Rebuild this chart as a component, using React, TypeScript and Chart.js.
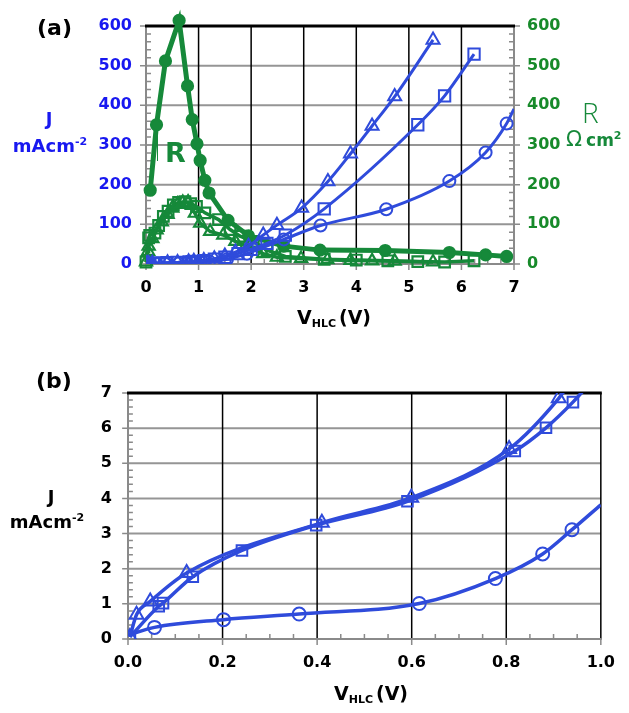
// Two-panel J / R versus V_HLC figure; axes frame, grid and tick marks are drawn as datasets.
import { Chart, registerables } from "chart.js";
import React, { useEffect, useRef } from "react";

Chart.register(...registerables);

// ---------- styles ----------
const FONT = "'DejaVu Sans', 'Liberation Sans', sans-serif";
const BLUE = "#2f4bdb";
const BLUE_TXT = "#1818f0";
const GREEN = "#16893a";
const GREEN_TXT = "#178a2a";
const GRAY = "#8a8a8a";
const HGRID = "#959595";
const NONE = "rgba(0,0,0,0)";

// ---------- Panel (a): J (left axis) and R (right axis) vs V_HLC ----------
const A_X_TICKS = [0, 1, 2, 3, 4, 5, 6, 7];
const A_Y_TICKS = [0, 100, 200, 300, 400, 500, 600];

const A_TRI_V = [0, 0.01, 0.02, 0.05, 0.12, 0.41, 0.6, 0.81, 0.91, 1.1, 1.3, 1.5, 1.7, 1.95, 2.23, 2.49, 2.96, 3.46, 3.89, 4.3, 4.73, 5.46];
const A_TRI_J = [0, 0.1, 0.7, 1.1, 1.9, 3.3, 4.0, 5.4, 6.8, 9, 13, 20, 30, 45, 73, 98, 141, 208, 278, 348, 422, 565];

const A_SQ_V = [0, 0.01, 0.065, 0.074, 0.136, 0.24, 0.4, 0.59, 0.82, 0.88, 0.94, 1.1, 1.3, 1.5, 1.75, 2.0, 2.3, 2.65, 3.39, 5.17, 5.68, 6.24];
const A_SQ_J = [0, 0.1, 0.9, 1.0, 1.8, 2.5, 3.2, 3.9, 5.3, 6.0, 6.7, 8.5, 12, 17, 26, 37, 52, 73, 139, 351, 424, 529];

const A_CIR_V = [0, 0.056, 0.2, 0.36, 0.62, 0.78, 0.88, 0.94, 1.03, 1.12, 1.2, 1.54, 1.92, 2.62, 3.32, 4.57, 5.77, 6.46, 6.86, 7.0];
const A_CIR_J = [0, 0.3, 0.55, 0.7, 1.0, 1.7, 2.4, 3.1, 4.0, 5.3, 6.7, 12, 26, 62, 97, 138, 209, 281, 354, 391];

const A_RCIR_V = [0.08, 0.2, 0.37, 0.63, 0.79, 0.88, 0.97, 1.03, 1.12, 1.2, 1.56, 1.95, 2.62, 3.31, 4.55, 5.77, 6.46, 6.86];
const A_RCIR_R = [186, 351, 512, 614, 449, 364, 303, 261, 211, 179, 110, 71, 45, 35, 34, 29, 23, 19];

const A_RTRI_V = [0.0, 0.04, 0.05, 0.12, 0.2, 0.3, 0.41, 0.5, 0.6, 0.7, 0.8, 0.93, 1.03, 1.22, 1.47, 1.7, 1.9, 2.23, 2.49, 2.95, 3.45, 3.89, 4.3, 4.73, 5.46];
const A_RTRI_R = [5, 32, 45, 64, 86, 106, 125, 141, 151, 155, 156, 128, 103, 82, 73, 57, 46, 26, 17, 14, 11, 9, 8, 7, 5];

const A_RSQ_V = [0.0, 0.05, 0.07, 0.17, 0.24, 0.33, 0.42, 0.52, 0.62, 0.74, 0.85, 0.96, 1.12, 1.38, 1.6, 1.79, 2.04, 2.3, 2.65, 3.39, 4.0, 4.6, 5.17, 5.68, 6.24];
const A_RSQ_R = [5, 66, 72, 78, 97, 120, 133, 149, 155, 157, 152, 145, 129, 112, 87, 70, 57, 35, 19, 12, 10, 8, 6, 5, 8];

// ---------- Panel (b): J vs V_HLC (0 - 1 V) ----------
const B_X_TICKS = [0, 0.2, 0.4, 0.6, 0.8, 1.0];
const B_Y_TICKS = [0, 1, 2, 3, 4, 5, 6, 7];

const B_TRI_V = [0.004, 0.018, 0.047, 0.124, 0.41, 0.599, 0.806, 0.911, 0.935];
const B_TRI_J = [0.06, 0.69, 1.07, 1.88, 3.31, 4.02, 5.41, 6.85, 7.3];

const B_SQ_V = [0.004, 0.065, 0.074, 0.137, 0.241, 0.398, 0.591, 0.818, 0.884, 0.941, 0.975];
const B_SQ_J = [0.06, 0.93, 1.02, 1.77, 2.52, 3.24, 3.92, 5.35, 6.01, 6.74, 7.25];

const B_CIR_V = [0.0, 0.056, 0.202, 0.362, 0.616, 0.777, 0.877, 0.939, 1.0];
const B_CIR_J = [0.11, 0.33, 0.55, 0.71, 1.01, 1.72, 2.42, 3.11, 3.82];

const pts = (xs: number[], ys: number[]) => xs.map((x, i) => ({ x, y: ys[i] }));
const radii = (n: number, r: number, hidden: number[]) =>
  Array.from({ length: n }, (_, i) => (hidden.includes(i) ? 0 : r));

type Seg = [number, number, number, number];
const segData = (segs: Seg[]) =>
  segs.flatMap(([x1, y1, x2, y2]) => [{ x: x1, y: y1 }, { x: x2, y: y2 }, { x: x2, y: null as any }]);

function frameSet(segs: Seg[], color: string, width: number) {
  return {
    data: segData(segs),
    borderColor: color,
    borderWidth: width,
    borderCapStyle: "butt",
    pointRadius: 0,
    pointHoverRadius: 0,
    tension: 0,
    spanGaps: false,
    fill: false,
    clip: false,
    yAxisID: "y",
  };
}

// grid, frame and tick marks as line datasets on the chart's own scales
function frameDatasets(xT: number[], yT: number[], xMinor: number, yMinor: number, plotW: number, plotH: number, rightAxis: boolean) {
  const x0 = xT[0], x1 = xT[xT.length - 1], y0 = yT[0], y1 = yT[yT.length - 1];
  const ux = (x1 - x0) / plotW;
  const uy = (y1 - y0) / plotH;
  const minors = (T: number[], step: number) => {
    const r = Math.round((T[1] - T[0]) / step);
    const n = Math.round((T[T.length - 1] - T[0]) / step);
    const out: number[] = [];
    for (let i = 1; i < n; i++) if (i % r !== 0) out.push(T[0] + i * step);
    return out;
  };
  const hgrid: Seg[] = yT.slice(1, -1).map((v) => [x1, v, x0, v]);
  const vgrid: Seg[] = (rightAxis ? xT.slice(1, -1) : xT.slice(1)).map((v) => [v, y0, v, y1]);
  const axes: Seg[] = [[x1 + ux, y0, x0 - ux, y0], [x0, y0 - uy, x0, y1]];
  if (rightAxis) axes.push([x1, y0 - uy, x1, y1]);
  const ticks: Seg[] = [];
  for (const v of yT) ticks.push([x0, v, x0 - 6 * ux, v]);
  for (const v of minors(yT, yMinor)) ticks.push([x0 + 5 * ux, v, x0, v]);
  if (rightAxis) {
    for (const v of yT) ticks.push([x1 + 6 * ux, v, x1, v]);
    for (const v of minors(yT, yMinor)) ticks.push([x1, v, x1 - 5 * ux, v]);
  }
  for (const v of xT) ticks.push([v, y0, v, y0 - 6 * uy]);
  for (const v of minors(xT, xMinor)) ticks.push([v, y0 + 5 * uy, v, y0]);
  const top: Seg[] = [[x1 + ux, y1, x0 - ux, y1]];
  return [
    frameSet(top, "#000", 3),
    frameSet(axes, GRAY, 2),
    frameSet(ticks, GRAY, 1.5),
    frameSet(vgrid, "#000", 1.5),
    frameSet(hgrid, HGRID, 2),
  ];
}

const tickFont = { family: FONT, size: 16, weight: "bold" as const };

function blueSet(xs: number[], ys: number[], style: string, r: number, hidden: number[], bw: number) {
  return {
    data: pts(xs, ys),
    borderColor: BLUE,
    borderWidth: bw,
    pointStyle: style,
    pointRadius: radii(xs.length, r, hidden),
    pointBorderWidth: 2,
    pointBorderColor: BLUE,
    pointBackgroundColor: NONE,
    cubicInterpolationMode: "monotone",
    yAxisID: "y",
    fill: false,
  };
}

function greenSet(xs: number[], ys: number[], style: string, r: number, filled: boolean, bw: number) {
  return {
    data: pts(xs, ys),
    borderColor: GREEN,
    borderWidth: bw,
    pointStyle: style,
    pointRadius: r,
    pointBorderWidth: 2.2,
    pointBorderColor: GREEN,
    pointBackgroundColor: filled ? GREEN : NONE,
    tension: 0,
    yAxisID: "y2",
    fill: false,
    clip: false,
  };
}

const noGrid = () => ({ display: false, drawTicks: false, tickLength: 0 });

function configA(): any {
  return {
    type: "line",
    data: {
      datasets: [
        blueSet(A_TRI_V, A_TRI_J, "triangle", 7.5, [], 3),
        blueSet(A_SQ_V, A_SQ_J, "rect", 8, [], 3),
        blueSet(A_CIR_V, A_CIR_J, "circle", 6, [A_CIR_V.length - 1], 3),
        greenSet(A_RCIR_V, A_RCIR_R, "circle", 5.5, true, 5),
        greenSet(A_RTRI_V, A_RTRI_R, "triangle", 7, false, 3.5),
        greenSet(A_RSQ_V, A_RSQ_R, "rect", 7.5, false, 3.5),
        ...frameDatasets(A_X_TICKS, A_Y_TICKS, 0.25, 20, 368, 238, true),
      ],
    },
    options: {
      responsive: false,
      animation: false,
      devicePixelRatio: 1,
      layout: { padding: { top: 26, left: 0, right: 0, bottom: 0 } },
      plugins: { legend: { display: false }, tooltip: { enabled: false } },
      scales: {
        x: {
          type: "linear",
          position: "bottom",
          min: A_X_TICKS[0],
          max: A_X_TICKS[A_X_TICKS.length - 1],
          afterBuildTicks: (s: any) => { s.ticks = A_X_TICKS.map((v) => ({ value: v })); },
          ticks: { padding: 14, color: "#000", font: tickFont },
          grid: noGrid(),
          border: { display: false },
          afterFit: (s: any) => { s.height = 66; },
        },
        y: {
          type: "linear",
          position: "left",
          min: A_Y_TICKS[0],
          max: A_Y_TICKS[A_Y_TICKS.length - 1],
          afterBuildTicks: (s: any) => { s.ticks = A_Y_TICKS.map((v) => ({ value: v })); },
          ticks: { padding: 14, color: BLUE_TXT, font: tickFont },
          grid: noGrid(),
          border: { display: false },
          afterFit: (s: any) => { s.width = 146; },
        },
        y2: {
          type: "linear",
          position: "right",
          min: A_Y_TICKS[0],
          max: A_Y_TICKS[A_Y_TICKS.length - 1],
          afterBuildTicks: (s: any) => { s.ticks = A_Y_TICKS.map((v) => ({ value: v })); },
          ticks: { padding: 13, color: GREEN_TXT, font: tickFont },
          grid: noGrid(),
          border: { display: false },
          afterFit: (s: any) => { s.width = 115; },
        },
      },
    },
  };
}

function configB(): any {
  return {
    type: "line",
    data: {
      datasets: [
        blueSet(B_TRI_V, B_TRI_J, "triangle", 8, [B_TRI_V.length - 1], 3.5),
        blueSet(B_SQ_V, B_SQ_J, "rect", 7.5, [B_SQ_V.length - 1], 3.5),
        blueSet(B_CIR_V, B_CIR_J, "circle", 6.5, [0, B_CIR_V.length - 1], 3.5),
        ...frameDatasets(B_X_TICKS, B_Y_TICKS, 0.05, 0.2, 484, 246, false),
      ],
    },
    options: {
      responsive: false,
      animation: false,
      devicePixelRatio: 1,
      layout: { padding: { top: 63, left: 0, right: 17, bottom: 0 } },
      plugins: { legend: { display: false }, tooltip: { enabled: false } },
      scales: {
        x: {
          type: "linear",
          position: "bottom",
          min: B_X_TICKS[0],
          max: B_X_TICKS[B_X_TICKS.length - 1],
          afterBuildTicks: (s: any) => { s.ticks = B_X_TICKS.map((v) => ({ value: v })); },
          ticks: { padding: 14, color: "#000", font: tickFont, callback: (v: any) => Number(v).toFixed(1) },
          grid: noGrid(),
          border: { display: false },
          afterFit: (s: any) => { s.height = 74; },
        },
        y: {
          type: "linear",
          position: "left",
          min: B_Y_TICKS[0],
          max: B_Y_TICKS[B_Y_TICKS.length - 1],
          afterBuildTicks: (s: any) => { s.ticks = B_Y_TICKS.map((v) => ({ value: v })); },
          ticks: { padding: 16, color: "#000", font: tickFont },
          grid: noGrid(),
          border: { display: false },
          afterFit: (s: any) => { s.width = 128; },
        },
      },
    },
  };
}

function ChartCanvas({ make, top, w, h }: { make: () => any; top: number; w: number; h: number }) {
  const ref = useRef<HTMLCanvasElement>(null);
  useEffect(() => {
    const chart = new Chart(ref.current as HTMLCanvasElement, make());
    return () => chart.destroy();
  }, []);
  return (
    <canvas
      ref={ref}
      width={w}
      height={h}
      style={{ position: "absolute", left: 0, top, width: w, height: h, display: "block" }}
    />
  );
}

const txt = (extra: React.CSSProperties): React.CSSProperties => ({
  position: "absolute",
  fontFamily: FONT,
  lineHeight: 1,
  whiteSpace: "nowrap",
  ...extra,
});

function AxisTitle({ cx, top }: { cx: number; top: number }) {
  return (
    <div style={txt({ left: cx - 100, width: 200, top, textAlign: "center", fontSize: 19, fontWeight: "bold", color: "#000" })}>
      V<span style={{ fontSize: 11, position: "relative", top: 3 }}>HLC</span>
      <span style={{ marginLeft: 3 }}>(V)</span>
    </div>
  );
}

export default function App() {
  return (
    <div style={{ position: "absolute", left: 0, top: 0, width: 629, height: 713, background: "#fff" }}>
      <ChartCanvas make={configA} top={0} w={629} h={330} />
      <ChartCanvas make={configB} top={330} w={629} h={383} />

      {/* panel (a) labels */}
      <div style={txt({ left: 37, top: 17, fontSize: 22, fontWeight: "bold", color: "#000" })}>(a)</div>
      <div style={txt({ left: 0, width: 98, top: 110, textAlign: "center", fontSize: 18, fontWeight: "bold", color: BLUE_TXT })}>J</div>
      <div style={txt({ left: 0, width: 100, top: 137, textAlign: "center", fontSize: 18, fontWeight: "bold", color: BLUE_TXT })}>
        mAcm<span style={{ fontSize: 11, position: "relative", top: -7 }}>-2</span>
      </div>
      <div style={{ position: "absolute", left: 157, top: 127, width: 4, height: 33, borderLeft: `1.5px solid ${GREEN}`, borderTop: `1.5px solid ${GREEN}` }} />
      <div style={txt({ left: 165, top: 139, fontSize: 27, fontWeight: "bold", color: GREEN })}>R</div>
      <div style={txt({ left: 582, top: 98, fontSize: 28, fontWeight: 300, fontFamily: "'Open Sans', 'Liberation Sans', sans-serif", color: GREEN })}>R</div>
      <div style={txt({ left: 566, top: 129, fontSize: 21, color: GREEN })}>
        Ω<span style={{ fontSize: 17, fontWeight: "bold", marginLeft: 4 }}>cm<span style={{ fontSize: 11, position: "relative", top: -7 }}>2</span></span>
      </div>
      <AxisTitle cx={334} top={308} />

      {/* panel (b) labels */}
      <div style={txt({ left: 36, top: 370, fontSize: 22, fontWeight: "bold", color: "#000" })}>(b)</div>
      <div style={txt({ left: 0, width: 102, top: 488, textAlign: "center", fontSize: 18, fontWeight: "bold", color: "#000" })}>J</div>
      <div style={txt({ left: 0, width: 94, top: 513, textAlign: "center", fontSize: 18, fontWeight: "bold", color: "#000" })}>
        mAcm<span style={{ fontSize: 11, position: "relative", top: -7 }}>-2</span>
      </div>
      <AxisTitle cx={371} top={684} />
    </div>
  );
}
